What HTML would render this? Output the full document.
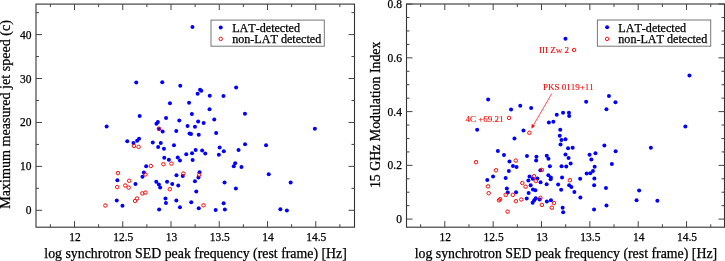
<!DOCTYPE html>
<html><head><meta charset="utf-8"><style>
html,body{margin:0;padding:0;background:#fff;}
body{width:725px;height:261px;overflow:hidden;}
svg{display:block;font-family:"Liberation Serif",serif;will-change:transform;}
text{stroke:#000;stroke-width:0.25px;font-kerning:none;}
.red text{stroke:#f00;stroke-width:0.1px;}
</style></head><body>
<svg width="725" height="261" viewBox="0 0 725 261">
<rect width="725" height="261" fill="#fff"/>
<rect x="36.0" y="4.1" width="318.5" height="223.1" fill="none" stroke="#333" stroke-width="1.1"/>
<path d="M74.5 227.2v-6M74.5 4.1v6M122.75 227.2v-6M122.75 4.1v6M171 227.2v-6M171 4.1v6M219.25 227.2v-6M219.25 4.1v6M267.5 227.2v-6M267.5 4.1v6M315.75 227.2v-6M315.75 4.1v6M50.38 227.2v-3M50.38 4.1v3M98.62 227.2v-3M98.62 4.1v3M146.88 227.2v-3M146.88 4.1v3M195.12 227.2v-3M195.12 4.1v3M243.38 227.2v-3M243.38 4.1v3M291.62 227.2v-3M291.62 4.1v3M339.88 227.2v-3M339.88 4.1v3M36.0 210.3h6M354.5 210.3h-6M36.0 166.38h6M354.5 166.38h-6M36.0 122.45h6M354.5 122.45h-6M36.0 78.53h6M354.5 78.53h-6M36.0 34.6h6M354.5 34.6h-6M36.0 188.34h3M354.5 188.34h-3M36.0 144.41h3M354.5 144.41h-3M36.0 100.49h3M354.5 100.49h-3M36.0 56.56h3M354.5 56.56h-3M36.0 12.64h3M354.5 12.64h-3" stroke="#444" stroke-width="1" fill="none"/>
<g font-size="11.5" fill="#000"><text x="75" y="240.8" text-anchor="middle">12</text><text x="123.25" y="240.8" text-anchor="middle">12.5</text><text x="171.5" y="240.8" text-anchor="middle">13</text><text x="219.75" y="240.8" text-anchor="middle">13.5</text><text x="268" y="240.8" text-anchor="middle">14</text><text x="316.25" y="240.8" text-anchor="middle">14.5</text><text x="31.6" y="214.3" text-anchor="end">0</text><text x="31.6" y="170.38" text-anchor="end">10</text><text x="31.6" y="126.45" text-anchor="end">20</text><text x="31.6" y="82.53" text-anchor="end">30</text><text x="31.6" y="38.6" text-anchor="end">40</text></g>
<text x="195.6" y="257.8" text-anchor="middle" font-size="13.85">log synchrotron SED peak frequency (rest frame) [Hz]</text>
<text transform="translate(9.8,114.4) rotate(-90)" text-anchor="middle" font-size="14.1">Maximum measured jet speed (c)</text>
<rect x="406.5" y="4.0" width="318.0" height="223.2" fill="none" stroke="#333" stroke-width="1.1"/>
<path d="M444.8 227.2v-6M444.8 4.0v6M493.15 227.2v-6M493.15 4.0v6M541.5 227.2v-6M541.5 4.0v6M589.85 227.2v-6M589.85 4.0v6M638.2 227.2v-6M638.2 4.0v6M686.55 227.2v-6M686.55 4.0v6M420.62 227.2v-3M420.62 4.0v3M468.98 227.2v-3M468.98 4.0v3M517.33 227.2v-3M517.33 4.0v3M565.67 227.2v-3M565.67 4.0v3M614.02 227.2v-3M614.02 4.0v3M662.38 227.2v-3M662.38 4.0v3M710.73 227.2v-3M710.73 4.0v3M406.5 219.1h6M724.5 219.1h-6M406.5 165.35h6M724.5 165.35h-6M406.5 111.6h6M724.5 111.6h-6M406.5 57.85h6M724.5 57.85h-6M406.5 4.1h6M724.5 4.1h-6M406.5 205.66h3M724.5 205.66h-3M406.5 192.22h3M724.5 192.22h-3M406.5 178.79h3M724.5 178.79h-3M406.5 151.91h3M724.5 151.91h-3M406.5 138.47h3M724.5 138.47h-3M406.5 125.04h3M724.5 125.04h-3M406.5 98.16h3M724.5 98.16h-3M406.5 84.72h3M724.5 84.72h-3M406.5 71.29h3M724.5 71.29h-3M406.5 44.41h3M724.5 44.41h-3M406.5 30.97h3M724.5 30.97h-3M406.5 17.54h3M724.5 17.54h-3" stroke="#444" stroke-width="1" fill="none"/>
<g font-size="11.5" fill="#000"><text x="445.3" y="240.8" text-anchor="middle">12</text><text x="493.65" y="240.8" text-anchor="middle">12.5</text><text x="542" y="240.8" text-anchor="middle">13</text><text x="590.35" y="240.8" text-anchor="middle">13.5</text><text x="638.7" y="240.8" text-anchor="middle">14</text><text x="687.05" y="240.8" text-anchor="middle">14.5</text><text x="401.9" y="223.1" text-anchor="end">0</text><text x="401.9" y="169.35" text-anchor="end">0.2</text><text x="401.9" y="115.6" text-anchor="end">0.4</text><text x="401.9" y="61.85" text-anchor="end">0.6</text><text x="401.9" y="8.1" text-anchor="end">0.8</text></g>
<text x="565.9" y="257.8" text-anchor="middle" font-size="13.85">log synchrotron SED peak frequency (rest frame) [Hz]</text>
<text transform="translate(380.3,114.8) rotate(-90)" text-anchor="middle" font-size="13.85">15 GHz Modulation Index</text>
<g class="red" font-size="9" fill="#f00"><text x="539.0" y="53.1">III Zw 2</text><text x="542.9" y="89.7">PKS 0119+11</text><text x="465.5" y="122.2">4C +69.21</text></g>
<path d="M551.9 93.4L533.2 125.6" stroke="#f00" stroke-width="0.7" fill="none"/>
<path d="M531.5 128.8L531.7 123.9L535.0 125.8Z" fill="#f00"/>
<g fill="#00f"><circle cx="192.45" cy="27.1" r="2.0"/><circle cx="136.25" cy="82.5" r="2.0"/><circle cx="162.25" cy="82.2" r="2.0"/><circle cx="180.25" cy="85.7" r="2.0"/><circle cx="169.95" cy="103.2" r="2.0"/><circle cx="189.05" cy="102.7" r="2.0"/><circle cx="191.85" cy="114.0" r="2.0"/><circle cx="139.65" cy="115.9" r="2.0"/><circle cx="236.15" cy="87.5" r="2.0"/><circle cx="200.05" cy="89.8" r="2.0"/><circle cx="201.25" cy="90.7" r="2.0"/><circle cx="197.65" cy="93.8" r="2.0"/><circle cx="209.75" cy="95.7" r="2.0"/><circle cx="223.45" cy="96.1" r="2.0"/><circle cx="209.55" cy="109.3" r="2.0"/><circle cx="244.95" cy="113.7" r="2.0"/><circle cx="106.65" cy="126.5" r="2.0"/><circle cx="157.85" cy="121.9" r="2.0"/><circle cx="156.45" cy="123.8" r="2.0"/><circle cx="166.05" cy="118.0" r="2.0"/><circle cx="179.25" cy="120.4" r="2.0"/><circle cx="159.05" cy="128.9" r="2.0"/><circle cx="162.65" cy="131.5" r="2.0"/><circle cx="176.25" cy="131.1" r="2.0"/><circle cx="127.25" cy="141.3" r="2.0"/><circle cx="133.45" cy="143.1" r="2.0"/><circle cx="139.05" cy="138.7" r="2.0"/><circle cx="137.15" cy="140.8" r="2.0"/><circle cx="152.75" cy="142.6" r="2.0"/><circle cx="160.75" cy="143.1" r="2.0"/><circle cx="158.15" cy="146.9" r="2.0"/><circle cx="163.95" cy="148.8" r="2.0"/><circle cx="173.95" cy="145.2" r="2.0"/><circle cx="164.25" cy="157.7" r="2.0"/><circle cx="168.85" cy="159.8" r="2.0"/><circle cx="177.75" cy="157.4" r="2.0"/><circle cx="179.95" cy="160.4" r="2.0"/><circle cx="146.15" cy="166.2" r="2.0"/><circle cx="143.85" cy="172.5" r="2.0"/><circle cx="142.45" cy="176.8" r="2.0"/><circle cx="117.35" cy="180.3" r="2.0"/><circle cx="135.45" cy="183.9" r="2.0"/><circle cx="156.25" cy="181.7" r="2.0"/><circle cx="158.85" cy="184.5" r="2.0"/><circle cx="160.15" cy="187.4" r="2.0"/><circle cx="167.05" cy="181.7" r="2.0"/><circle cx="172.25" cy="184.0" r="2.0"/><circle cx="176.45" cy="175.2" r="2.0"/><circle cx="178.25" cy="185.4" r="2.0"/><circle cx="116.75" cy="200.5" r="2.0"/><circle cx="122.45" cy="205.7" r="2.0"/><circle cx="165.45" cy="198.4" r="2.0"/><circle cx="165.95" cy="203.0" r="2.0"/><circle cx="159.15" cy="209.4" r="2.0"/><circle cx="176.35" cy="200.6" r="2.0"/><circle cx="179.95" cy="207.2" r="2.0"/><circle cx="198.15" cy="121.4" r="2.0"/><circle cx="203.65" cy="123.1" r="2.0"/><circle cx="214.25" cy="119.5" r="2.0"/><circle cx="187.55" cy="126.1" r="2.0"/><circle cx="194.95" cy="126.8" r="2.0"/><circle cx="189.55" cy="133.4" r="2.0"/><circle cx="191.05" cy="133.9" r="2.0"/><circle cx="198.75" cy="134.7" r="2.0"/><circle cx="216.15" cy="133.1" r="2.0"/><circle cx="245.05" cy="144.3" r="2.0"/><circle cx="219.65" cy="147.4" r="2.0"/><circle cx="223.75" cy="151.2" r="2.0"/><circle cx="218.85" cy="154.8" r="2.0"/><circle cx="238.55" cy="150.0" r="2.0"/><circle cx="195.65" cy="150.0" r="2.0"/><circle cx="202.15" cy="150.4" r="2.0"/><circle cx="205.25" cy="153.4" r="2.0"/><circle cx="192.05" cy="153.2" r="2.0"/><circle cx="186.25" cy="154.2" r="2.0"/><circle cx="192.65" cy="160.0" r="2.0"/><circle cx="235.15" cy="163.3" r="2.0"/><circle cx="233.75" cy="166.2" r="2.0"/><circle cx="241.45" cy="166.9" r="2.0"/><circle cx="182.75" cy="176.1" r="2.0"/><circle cx="199.55" cy="172.3" r="2.0"/><circle cx="198.45" cy="177.5" r="2.0"/><circle cx="194.95" cy="181.3" r="2.0"/><circle cx="224.55" cy="182.5" r="2.0"/><circle cx="235.85" cy="188.6" r="2.0"/><circle cx="196.25" cy="191.5" r="2.0"/><circle cx="191.25" cy="202.3" r="2.0"/><circle cx="223.65" cy="203.3" r="2.0"/><circle cx="198.75" cy="208.3" r="2.0"/><circle cx="215.65" cy="210.1" r="2.0"/><circle cx="224.85" cy="209.6" r="2.0"/><circle cx="314.85" cy="128.8" r="2.0"/><circle cx="266.05" cy="145.3" r="2.0"/><circle cx="268.75" cy="174.3" r="2.0"/><circle cx="290.65" cy="182.6" r="2.0"/><circle cx="280.35" cy="209.2" r="2.0"/><circle cx="286.85" cy="210.5" r="2.0"/><circle cx="565.45" cy="38.8" r="2.0"/><circle cx="689.45" cy="75.5" r="2.0"/><circle cx="488.15" cy="99.4" r="2.0"/><circle cx="511.05" cy="109.4" r="2.0"/><circle cx="520.25" cy="105.8" r="2.0"/><circle cx="531.15" cy="107.9" r="2.0"/><circle cx="586.15" cy="101.7" r="2.0"/><circle cx="608.95" cy="96.1" r="2.0"/><circle cx="615.45" cy="102.3" r="2.0"/><circle cx="606.45" cy="109.3" r="2.0"/><circle cx="556.75" cy="114.8" r="2.0"/><circle cx="563.05" cy="112.7" r="2.0"/><circle cx="568.95" cy="112.8" r="2.0"/><circle cx="569.15" cy="116.0" r="2.0"/><circle cx="548.85" cy="122.5" r="2.0"/><circle cx="553.35" cy="121.8" r="2.0"/><circle cx="477.15" cy="129.8" r="2.0"/><circle cx="523.45" cy="130.5" r="2.0"/><circle cx="514.45" cy="138.4" r="2.0"/><circle cx="560.25" cy="129.8" r="2.0"/><circle cx="559.75" cy="135.8" r="2.0"/><circle cx="561.45" cy="139.9" r="2.0"/><circle cx="565.45" cy="139.3" r="2.0"/><circle cx="560.55" cy="144.5" r="2.0"/><circle cx="568.05" cy="148.2" r="2.0"/><circle cx="572.65" cy="147.7" r="2.0"/><circle cx="526.95" cy="156.0" r="2.0"/><circle cx="536.45" cy="156.8" r="2.0"/><circle cx="536.15" cy="160.4" r="2.0"/><circle cx="546.75" cy="155.7" r="2.0"/><circle cx="548.45" cy="158.8" r="2.0"/><circle cx="565.45" cy="154.6" r="2.0"/><circle cx="568.55" cy="158.0" r="2.0"/><circle cx="570.65" cy="163.4" r="2.0"/><circle cx="589.55" cy="154.8" r="2.0"/><circle cx="591.35" cy="159.4" r="2.0"/><circle cx="595.45" cy="153.2" r="2.0"/><circle cx="604.35" cy="145.5" r="2.0"/><circle cx="615.65" cy="151.2" r="2.0"/><circle cx="650.85" cy="147.8" r="2.0"/><circle cx="685.35" cy="126.4" r="2.0"/><circle cx="497.85" cy="151.1" r="2.0"/><circle cx="503.95" cy="154.9" r="2.0"/><circle cx="509.45" cy="161.5" r="2.0"/><circle cx="512.95" cy="166.1" r="2.0"/><circle cx="516.55" cy="166.9" r="2.0"/><circle cx="508.85" cy="170.9" r="2.0"/><circle cx="493.05" cy="176.6" r="2.0"/><circle cx="487.25" cy="179.9" r="2.0"/><circle cx="505.65" cy="178.0" r="2.0"/><circle cx="506.85" cy="188.6" r="2.0"/><circle cx="507.75" cy="192.6" r="2.0"/><circle cx="516.05" cy="192.3" r="2.0"/><circle cx="549.85" cy="166.2" r="2.0"/><circle cx="561.55" cy="166.2" r="2.0"/><circle cx="566.25" cy="166.6" r="2.0"/><circle cx="540.35" cy="170.2" r="2.0"/><circle cx="594.65" cy="166.7" r="2.0"/><circle cx="586.65" cy="173.5" r="2.0"/><circle cx="590.25" cy="173.2" r="2.0"/><circle cx="592.95" cy="171.1" r="2.0"/><circle cx="529.55" cy="176.5" r="2.0"/><circle cx="532.75" cy="178.8" r="2.0"/><circle cx="537.35" cy="178.4" r="2.0"/><circle cx="528.35" cy="180.6" r="2.0"/><circle cx="540.55" cy="182.2" r="2.0"/><circle cx="548.35" cy="175.3" r="2.0"/><circle cx="550.85" cy="177.4" r="2.0"/><circle cx="550.65" cy="179.2" r="2.0"/><circle cx="562.05" cy="177.5" r="2.0"/><circle cx="580.15" cy="178.7" r="2.0"/><circle cx="594.35" cy="178.5" r="2.0"/><circle cx="530.65" cy="185.3" r="2.0"/><circle cx="546.65" cy="184.2" r="2.0"/><circle cx="558.15" cy="184.6" r="2.0"/><circle cx="569.15" cy="185.3" r="2.0"/><circle cx="571.35" cy="186.9" r="2.0"/><circle cx="594.15" cy="185.2" r="2.0"/><circle cx="611.85" cy="164.1" r="2.0"/><circle cx="532.95" cy="189.6" r="2.0"/><circle cx="535.35" cy="190.3" r="2.0"/><circle cx="561.15" cy="189.8" r="2.0"/><circle cx="574.35" cy="192.1" r="2.0"/><circle cx="528.65" cy="192.9" r="2.0"/><circle cx="580.35" cy="197.6" r="2.0"/><circle cx="526.75" cy="198.5" r="2.0"/><circle cx="535.75" cy="198.3" r="2.0"/><circle cx="534.25" cy="200.3" r="2.0"/><circle cx="532.65" cy="202.7" r="2.0"/><circle cx="539.65" cy="199.5" r="2.0"/><circle cx="546.85" cy="201.6" r="2.0"/><circle cx="550.95" cy="200.2" r="2.0"/><circle cx="562.65" cy="207.8" r="2.0"/><circle cx="563.15" cy="212.3" r="2.0"/><circle cx="594.05" cy="209.5" r="2.0"/><circle cx="605.95" cy="188.0" r="2.0"/><circle cx="639.15" cy="190.5" r="2.0"/><circle cx="636.55" cy="200.2" r="2.0"/><circle cx="657.35" cy="200.7" r="2.0"/><circle cx="606.45" cy="205.5" r="2.0"/></g>
<g fill="none" stroke="#f00" stroke-width="0.95"><circle cx="158.9" cy="128.7" r="1.75"/><circle cx="134.0" cy="145.9" r="1.75"/><circle cx="138.6" cy="146.9" r="1.75"/><circle cx="150.8" cy="166.0" r="1.75"/><circle cx="163.4" cy="164.2" r="1.75"/><circle cx="171.4" cy="163.6" r="1.75"/><circle cx="118.0" cy="173.1" r="1.75"/><circle cx="145.4" cy="174.5" r="1.75"/><circle cx="129.2" cy="180.8" r="1.75"/><circle cx="117.2" cy="187.1" r="1.75"/><circle cx="125.3" cy="185.5" r="1.75"/><circle cx="128.7" cy="187.6" r="1.75"/><circle cx="169.8" cy="189.2" r="1.75"/><circle cx="142.3" cy="193.4" r="1.75"/><circle cx="145.4" cy="192.6" r="1.75"/><circle cx="137.0" cy="198.5" r="1.75"/><circle cx="135.1" cy="201.0" r="1.75"/><circle cx="105.4" cy="205.5" r="1.75"/><circle cx="183.3" cy="173.6" r="1.75"/><circle cx="199.1" cy="174.8" r="1.75"/><circle cx="203.5" cy="205.3" r="1.75"/><circle cx="574.1" cy="50.0" r="1.75"/><circle cx="509.0" cy="117.9" r="1.75"/><circle cx="529.4" cy="132.8" r="1.75"/><circle cx="476.0" cy="162.2" r="1.75"/><circle cx="515.8" cy="160.6" r="1.75"/><circle cx="496.0" cy="170.3" r="1.75"/><circle cx="488.0" cy="186.4" r="1.75"/><circle cx="488.7" cy="193.2" r="1.75"/><circle cx="505.7" cy="194.9" r="1.75"/><circle cx="512.8" cy="194.9" r="1.75"/><circle cx="499.0" cy="200.3" r="1.75"/><circle cx="500.1" cy="199.2" r="1.75"/><circle cx="515.9" cy="201.2" r="1.75"/><circle cx="521.3" cy="199.5" r="1.75"/><circle cx="507.6" cy="211.6" r="1.75"/><circle cx="541.8" cy="169.9" r="1.75"/><circle cx="534.0" cy="176.2" r="1.75"/><circle cx="535.8" cy="181.0" r="1.75"/><circle cx="569.9" cy="180.2" r="1.75"/><circle cx="522.3" cy="183.0" r="1.75"/><circle cx="525.6" cy="186.7" r="1.75"/><circle cx="540.4" cy="197.9" r="1.75"/><circle cx="541.9" cy="204.9" r="1.75"/><circle cx="554.0" cy="203.1" r="1.75"/><circle cx="551.8" cy="207.7" r="1.75"/></g>
<rect x="211" y="20.1" width="113.30000000000001" height="26.1" fill="#fff" stroke="#777" stroke-width="1"/><circle cx="220.7" cy="27.4" r="2.0" fill="#00f"/><circle cx="220.7" cy="38.9" r="1.75" fill="none" stroke="#f00" stroke-width="0.95"/><text x="232.2" y="31.8" font-size="12.1">LAT-detected</text><text x="232.2" y="43.2" font-size="12.1">non-LAT detected</text>
<rect x="597.4" y="20.0" width="113.30000000000007" height="26.200000000000003" fill="#fff" stroke="#777" stroke-width="1"/><circle cx="607.1" cy="27.3" r="2.0" fill="#00f"/><circle cx="607.1" cy="38.9" r="1.75" fill="none" stroke="#f00" stroke-width="0.95"/><text x="618.3" y="31.8" font-size="12.1">LAT-detected</text><text x="618.3" y="43.2" font-size="12.1">non-LAT detected</text>
</svg></body></html>
